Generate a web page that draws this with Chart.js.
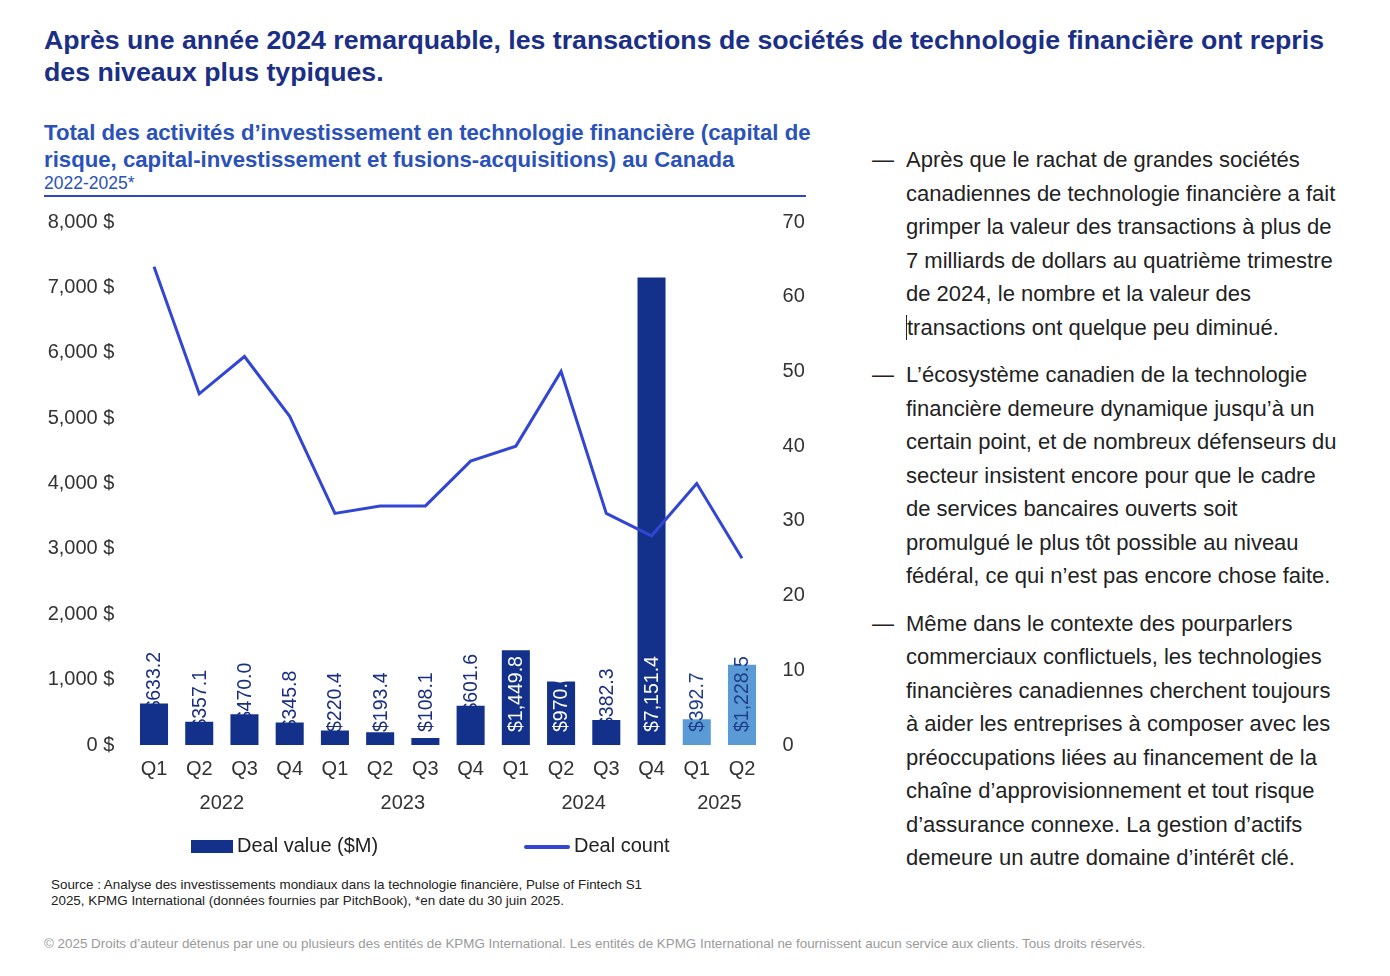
<!DOCTYPE html>
<html lang="fr">
<head>
<meta charset="utf-8">
<title>Fintech Canada</title>
<script src="https://cdn.jsdelivr.net/npm/chart.js@4.4.1/dist/chart.umd.min.js"></script>
<style>
  html, body { margin: 0; padding: 0; background: #fff; }
  body { width: 1390px; height: 976px; position: relative; overflow: hidden;
         font-family: "Liberation Sans", Arial, sans-serif; }
  .abs { position: absolute; white-space: nowrap; }
  #title { left: 44px; top: 24px; font-size: 26.7px; font-weight: bold; color: #1c2f86; line-height: 32px; }
  #subtitle { left: 44px; top: 119px; font-size: 22.2px; font-weight: bold; color: #2a52b8; line-height: 27px; }
  #period { left: 44px; top: 173px; font-size: 17.5px; color: #2a52b8; }
  #rule { left: 44px; top: 195px; width: 762px; height: 2px; background: #2f45cc; }
  #chartBox { left: 40px; top: 192px; width: 780px; height: 648px; }
  .legend { top: 834px; font-size: 20px; color: #222; }
  .legend .sw { display: inline-block; vertical-align: middle; margin-right: 4px; }
  #source { left: 51px; top: 877px; font-size: 13.4px; color: #222; line-height: 16px; }
  #copy { left: 44px; top: 936px; font-size: 13.4px; color: #9a9a9a; }
  #notes { left: 872px; top: 143px; font-size: 22px; color: #222; line-height: 33.5px; }
  #notes .item { position: relative; padding-left: 34px; margin-bottom: 14px; }
  #notes .item::before { content: "\2014"; position: absolute; left: 0; top: 0; }
  .caret { border-left: 1.5px solid #222; }
</style>
</head>
<body>
<div id="title" class="abs">Après une année 2024 remarquable, les transactions de sociétés de technologie financière ont repris<br>des niveaux plus typiques.</div>
<div id="subtitle" class="abs">Total des activités d’investissement en technologie financière (capital de<br>risque, capital-investissement et fusions-acquisitions) au Canada</div>
<div id="period" class="abs">2022-2025*</div>

<div id="chartBox" class="abs"><canvas id="mainChart" width="780" height="648"></canvas></div>
<div id="rule" class="abs"></div>

<div class="abs legend" style="left:191px;"><span class="sw" style="width:42px;height:13px;background:#13308a;"></span>Deal value ($M)</div>
<div class="abs legend" style="left:524px;"><span class="sw" style="width:46px;height:4px;background:#3246d3;border-radius:2px;"></span>Deal count</div>

<div id="source" class="abs">Source : Analyse des investissements mondiaux dans la technologie financière, Pulse of Fintech S1<br>2025, KPMG International (données fournies par PitchBook), *en date du 30 juin 2025.</div>
<div id="copy" class="abs">© 2025 Droits d’auteur détenus par une ou plusieurs des entités de KPMG International. Les entités de KPMG International ne fournissent aucun service aux clients. Tous droits réservés.</div>

<div id="notes" class="abs">
  <div class="item">Après que le rachat de grandes sociétés<br>canadiennes de technologie financière a fait<br>grimper la valeur des transactions à plus de<br>7 milliards de dollars au quatrième trimestre<br>de 2024, le nombre et la valeur des<br><span class="caret"></span>transactions ont quelque peu diminué.</div>
  <div class="item">L’écosystème canadien de la technologie<br>financière demeure dynamique jusqu’à un<br>certain point, et de nombreux défenseurs du<br>secteur insistent encore pour que le cadre<br>de services bancaires ouverts soit<br>promulgué le plus tôt possible au niveau<br>fédéral, ce qui n’est pas encore chose faite.</div>
  <div class="item">Même dans le contexte des pourparlers<br>commerciaux conflictuels, les technologies<br>financières canadiennes cherchent toujours<br>à aider les entreprises à composer avec les<br>préoccupations liées au financement de la<br>chaîne d’approvisionnement et tout risque<br>d’assurance connexe. La gestion d’actifs<br>demeure un autre domaine d’intérêt clé.</div>
</div>

<script>
// Chart data
const quarters = ['Q1', 'Q2', 'Q3', 'Q4', 'Q1', 'Q2', 'Q3', 'Q4', 'Q1', 'Q2', 'Q3', 'Q4', 'Q1', 'Q2'];
const years = ['2022', '2022', '2022', '2022', '2023', '2023', '2023', '2023', '2024', '2024', '2024', '2024', '2025', '2025'];
const dealValue = [633.2, 357.1, 470.0, 345.8, 220.4, 193.4, 108.1, 601.6, 1449.8, 970.0, 382.3, 7151.4, 392.7, 1228.5];
const dealCount = [64, 47, 52, 44, 31, 32, 32, 38, 40, 50, 31, 28, 35, 25];
const partialYear = '2025';

const NAVY = '#13308a';
const LIGHT = '#5b9bd5';
const LINE = '#3246d3';
const FONT = '"Liberation Sans", Arial, sans-serif';

const barColors = years.map(y => y === partialYear ? LIGHT : NAVY);

function fmtMoney(v) {
    return '$' + v.toLocaleString('en-US', { minimumFractionDigits: 1, maximumFractionDigits: 1 });
}

// Rotated value labels; short dark bars get theirs drawn behind the bar
function drawBarLabels(chart, front) {
    const meta = chart.getDatasetMeta(1);
    const base = chart.scales.y.getPixelForValue(0);
    const ctx = chart.ctx;
    ctx.save();
    ctx.font = '19.5px ' + FONT;
    ctx.textAlign = 'left';
    ctx.textBaseline = 'middle';
    meta.data.forEach((bar, i) => {
        const light = years[i] === partialYear;
        const tall = dealValue[i] > 900;
        const isFront = light || tall;
        if (isFront !== front) return;
        let anchor = base - 13;
        let color = '#1b2f80';
        if (!light && tall) color = '#ffffff';
        if (light) color = '#1f3c8f';
        if (!isFront) anchor = Math.min(base - 13, bar.y + 8);
        ctx.fillStyle = color;
        ctx.save();
        ctx.translate(bar.x, anchor);
        ctx.rotate(-Math.PI / 2);
        ctx.fillText(fmtMoney(dealValue[i]), 0, 1);
        ctx.restore();
    });
    ctx.restore();
}

const barLabels = {
    id: 'barLabels',
    beforeDatasetsDraw(chart) { drawBarLabels(chart, false); },
    afterDatasetsDraw(chart) { drawBarLabels(chart, true); }
};

// Year row under the quarter ticks
const yearRow = {
    id: 'yearRow',
    afterDraw(chart) {
        const x = chart.scales.x;
        const ctx = chart.ctx;
        const groups = {};
        years.forEach((y, i) => {
            if (!groups[y]) groups[y] = [];
            groups[y].push(x.getPixelForValue(i));
        });
        ctx.save();
        ctx.font = '20px ' + FONT;
        ctx.fillStyle = '#333';
        ctx.textAlign = 'center';
        ctx.textBaseline = 'middle';
        Object.keys(groups).forEach(y => {
            const px = groups[y];
            ctx.fillText(y, (px[0] + px[px.length - 1]) / 2, 611);
        });
        ctx.restore();
    }
};

new Chart(document.getElementById('mainChart'), {
    type: 'bar',
    data: {
        labels: quarters,
        datasets: [
            {
                type: 'line',
                label: 'Deal count',
                data: dealCount,
                yAxisID: 'y1',
                borderColor: LINE,
                borderWidth: 3,
                pointRadius: 0,
                tension: 0,
                order: 0
            },
            {
                type: 'bar',
                label: 'Deal value ($M)',
                data: dealValue,
                yAxisID: 'y',
                backgroundColor: barColors,
                barPercentage: 0.62,
                categoryPercentage: 1,
                order: 1
            }
        ]
    },
    options: {
        responsive: false,
        animation: false,
        layout: { padding: { top: 12, left: 0, right: 0, bottom: 0 } },
        plugins: {
            legend: { display: false },
            tooltip: { enabled: false }
        },
        scales: {
            x: {
                grid: { display: false, drawTicks: false },
                border: { display: false },
                ticks: { color: '#333', font: { family: FONT, size: 20 }, padding: 12, maxRotation: 0 },
                afterFit: s => { s.height = 95; }
            },
            y: {
                position: 'left',
                min: 0, max: 8000,
                grid: { display: false, drawTicks: false },
                border: { display: false },
                ticks: {
                    stepSize: 1000,
                    color: '#333',
                    padding: 17,
                    font: { family: FONT, size: 20 },
                    callback: v => v.toLocaleString('en-US') + ' $'
                },
                afterFit: s => { s.width = 91.4; }
            },
            y1: {
                position: 'right',
                min: 0, max: 70,
                grid: { display: false, drawTicks: false },
                border: { display: false },
                ticks: { stepSize: 10, color: '#333', padding: 18, font: { family: FONT, size: 20 } },
                afterFit: s => { s.width = 55.4; }
            }
        }
    },
    plugins: [barLabels, yearRow]
});
</script>
</body>
</html>
